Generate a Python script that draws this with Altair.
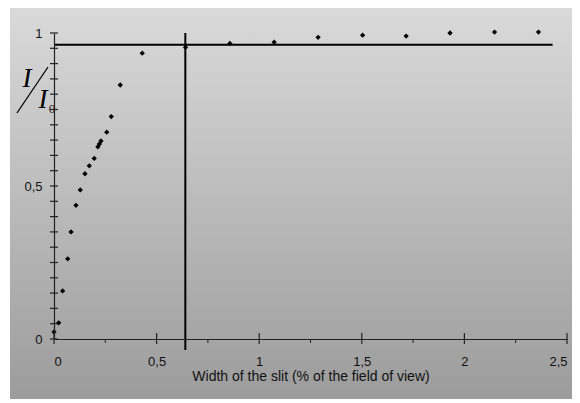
import altair as alt
import pandas as pd

# measured points
width_x = [0, 0.023, 0.042, 0.067, 0.083, 0.107, 0.128, 0.151, 0.172, 0.196, 0.214, 0.221, 0.229,
           0.257, 0.279, 0.323, 0.430, 0.641, 0.857, 1.073, 1.287, 1.504, 1.716, 1.930, 2.147, 2.361]
intensity = [0.023, 0.053, 0.157, 0.262, 0.350, 0.437, 0.487, 0.540, 0.566, 0.590, 0.628, 0.637, 0.647,
             0.676, 0.727, 0.830, 0.934, 0.953, 0.966, 0.970, 0.986, 0.993, 0.990, 1.0, 1.003, 1.003]

# reference lines
hline_y = [0.962]
hline_x = [0.0]
hline_x2 = [2.43]
vline_x = [0.64]
vline_y = [1.0]
vline_y2 = [-0.036]

# tick positions
y_ticks = [0, 0.05, 0.1, 0.15, 0.2, 0.25, 0.3, 0.35, 0.4, 0.45, 0.5,
           0.55, 0.6, 0.65, 0.7, 0.75, 0.8, 0.85, 0.9, 0.95, 1.0]
x_major = [0, 0.5, 1, 1.5, 2, 2.5]
x_minor = [0.25, 0.75, 1.25, 1.75, 2.25]
y_labels = [0, 0.5, 1]

W, H = 513, 306
xs = alt.Scale(domain=[0, 2.5], nice=False, zero=False)
ys = alt.Scale(domain=[0, 1], nice=False, zero=False)

lab_font = "Liberation Sans"
xaxis = alt.Axis(
    values=x_major, format="~g", labelExpr="replace(datum.label, '.', ',')", ticks=False, zindex=1,
    domainColor="#222", domainWidth=1.2, grid=False, labelFont=lab_font, labelFontSize=13,
    labelColor="#111", labelPadding=16,
    title="Width of the slit (% of the field of view)", titleFont=lab_font, titleFontSize=14,
    titleFontWeight="normal", titleColor="#111", titlePadding=1)
yaxis = alt.Axis(
    values=y_labels, format="~g", labelExpr="replace(datum.label, '.', ',')", ticks=False, zindex=1,
    domainColor="#222", domainWidth=1.2, grid=False, labelFont=lab_font, labelFontSize=13,
    labelColor="#111", labelPadding=12, title=None)

X = lambda: alt.X("x:Q", scale=xs, axis=xaxis)
Y = lambda: alt.Y("y:Q", scale=ys, axis=yaxis)

pts = pd.DataFrame({"x": width_x, "y": intensity})
one = pd.DataFrame({"a": [0]})

grad = {"gradient": "linear", "x1": 0, "y1": 0, "x2": 0, "y2": 1,
        "stops": [{"offset": 0, "color": "#dadada"}, {"offset": 1, "color": "#9b9b9b"}]}

bg = alt.Chart(one).mark_rect(color=grad).encode(
    x=alt.value(-44), x2=alt.value(540), y=alt.value(-28), y2=alt.value(372))
topline = alt.Chart(one).mark_rule(color="#ececec", strokeWidth=1).encode(
    x=alt.value(-44), x2=alt.value(540), y=alt.value(-28.5))

points = alt.Chart(pts).mark_point(shape="diamond", filled=True, color="black", size=28, opacity=1).encode(
    x=X(), y=Y())

hdf = pd.DataFrame({"x": hline_x, "x2": hline_x2, "y": hline_y})
hline = alt.Chart(hdf).mark_rule(color="black", strokeWidth=2).encode(x=X(), x2="x2:Q", y=Y())
vdf = pd.DataFrame({"x": vline_x, "y": vline_y, "y2": vline_y2})
vline = alt.Chart(vdf).mark_rule(color="black", strokeWidth=2).encode(x=X(), y=Y(), y2="y2:Q")

yt = alt.Chart(pd.DataFrame({"y": y_ticks})).mark_rule(color="#222", strokeWidth=1.2).encode(
    y=Y(), x=alt.value(-4), x2=alt.value(4))
xmj = alt.Chart(pd.DataFrame({"x": x_major})).mark_rule(color="#222", strokeWidth=1.2).encode(
    x=X(), y=alt.value(H - 6), y2=alt.value(H + 5))
xmn = alt.Chart(pd.DataFrame({"x": x_minor})).mark_rule(color="#222", strokeWidth=1).encode(
    x=X(), y=alt.value(H), y2=alt.value(H + 4))

serif = "Liberation Serif"
t1 = alt.Chart(one).mark_text(font=serif, fontStyle="italic", fontSize=27, color="black",
                              align="center", baseline="alphabetic").encode(
    x=alt.value(-27), y=alt.value(54), text=alt.value("I"))
t2 = alt.Chart(one).mark_text(font=serif, fontStyle="italic", fontSize=27, color="black",
                              align="center", baseline="alphabetic").encode(
    x=alt.value(-11), y=alt.value(75), text=alt.value("I"))
t0 = alt.Chart(one).mark_text(font=serif, fontSize=13, color="#222",
                              align="center", baseline="alphabetic").encode(
    x=alt.value(-2), y=alt.value(80), text=alt.value("0"))
slash = alt.Chart(one).mark_rule(color="black", strokeWidth=1.3).encode(
    x=alt.value(-6), y=alt.value(34), x2=alt.value(-37), y2=alt.value(80))

chart = alt.layer(bg, topline, hline, vline, yt, xmj, xmn, points, t1, t2, t0, slash).properties(
    width=W, height=H, autosize="none",
    padding={"left": 46, "top": 25, "right": 5, "bottom": 60},
).configure(background="white").configure_view(stroke=None)

chart.save("out.html", embed_options={"renderer": "svg", "actions": False})
